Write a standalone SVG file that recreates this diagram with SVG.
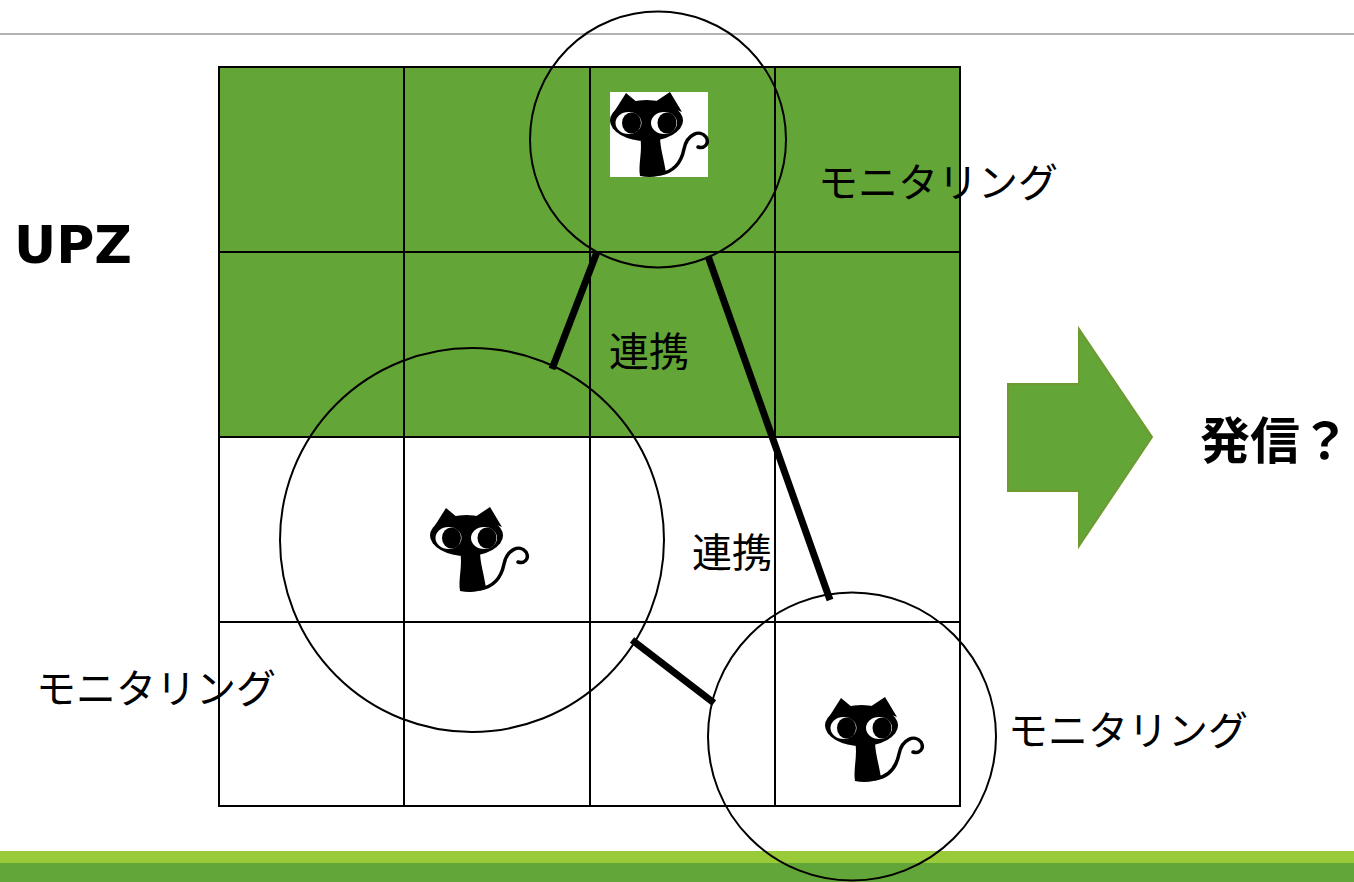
<svg xmlns="http://www.w3.org/2000/svg" width="1354" height="882" viewBox="0 0 1354 882">
  <style>
    .grid { stroke: #000; stroke-width: 2; fill: none; }
    .ring { stroke: #000; stroke-width: 2; fill: none; }
    .link { stroke: #000; stroke-width: 7; stroke-linecap: butt; }
    .jp { font-family: "Noto Sans CJK JP", "Noto Sans", sans-serif; fill: #000; }
    .lbl { font-size: 40px; }
  </style>
  <defs>
    <!-- black cat icon, 98 x 85 box -->
    <g id="cat">
      <path d="M4,20 L16,1 L28,11 Z" fill="#000"/>
      <path d="M45,10 L60,0 L72,20 Z" fill="#000"/>
      <ellipse cx="36.5" cy="28.5" rx="36.5" ry="20.5" fill="#000"/>
      <path d="M30,44 C33,58 28,72 30,84 Q45,87 56,81 C54,67 50,56 50,44 Z" fill="#000"/>
      <path d="M50,82 C62,80 71,72 74,57 C77,42 90,37 96,45 C100,52 94,57 88,55" fill="none" stroke="#000" stroke-width="3.5" stroke-linecap="round"/>
      <ellipse cx="18.5" cy="31" rx="13" ry="11" fill="#fff"/>
      <ellipse cx="21.5" cy="31" rx="9.5" ry="10.5" fill="#000"/>
      <ellipse cx="54" cy="31" rx="13" ry="11" fill="#fff"/>
      <ellipse cx="57" cy="31" rx="9.5" ry="10.5" fill="#000"/>
    </g>
  </defs>

  <rect x="0" y="0" width="1354" height="882" fill="#fff"/>

  <!-- header rule and footer bands -->
  <line x1="0" y1="34" x2="1354" y2="34" stroke="#b3b3b3" stroke-width="2"/>
  <rect x="0" y="851" width="1354" height="12" fill="#99cb38"/>
  <rect x="0" y="863" width="1354" height="19" fill="#62a538"/>

  <!-- 4x4 area grid, upper half shaded -->
  <g id="grid">
    <rect x="219" y="67" width="741" height="370" fill="#63a537"/>
    <path class="grid" d="M219,67 H960 V806 H219 Z M404,67 V806 M590,67 V806 M775,67 V806 M219,252 H960 M219,437 H960 M219,622 H960"/>
  </g>

  <g id="label-upz">
    <text x="14" y="263" font-family="'DejaVu Sans', sans-serif" font-size="52" font-weight="bold" fill="#000">UPZ</text>
  </g>

  <!-- monitor nodes -->
  <g id="node-top">
    <rect x="610" y="92" width="98" height="85" fill="#fff"/>
    <use href="#cat" x="610" y="92"/>
    <circle class="ring" cx="658" cy="139.5" r="128"/>
    <text class="jp lbl" x="818" y="197">モニタリング</text>
  </g>
  <g id="node-left">
    <use href="#cat" x="430" y="507"/>
    <circle class="ring" cx="472" cy="540" r="192"/>
    <text class="jp lbl" x="36" y="703">モニタリング</text>
  </g>
  <g id="node-right">
    <use href="#cat" x="825" y="697"/>
    <circle class="ring" cx="852" cy="736.5" r="144"/>
    <text class="jp lbl" x="1008" y="745">モニタリング</text>
  </g>

  <!-- cooperation links -->
  <g id="connectors">
    <line class="link" x1="597" y1="252" x2="552" y2="369"/>
    <line class="link" x1="708" y1="256" x2="830" y2="600"/>
    <line class="link" x1="632" y1="640" x2="714" y2="703"/>
  </g>
  <g id="link-labels">
    <text class="jp lbl" x="609" y="366">連携</text>
    <text class="jp lbl" x="692" y="567">連携</text>
  </g>

  <!-- outcome -->
  <g id="arrow">
    <polygon points="1008,384 1079,384 1079,329 1152,437 1079,546 1079,491 1008,491" fill="#63a537" stroke="#6e9a30" stroke-width="2"/>
  </g>
  <g id="label-send">
    <text class="jp" x="1200" y="459" font-size="50" font-weight="bold">発信？</text>
  </g>
</svg>
